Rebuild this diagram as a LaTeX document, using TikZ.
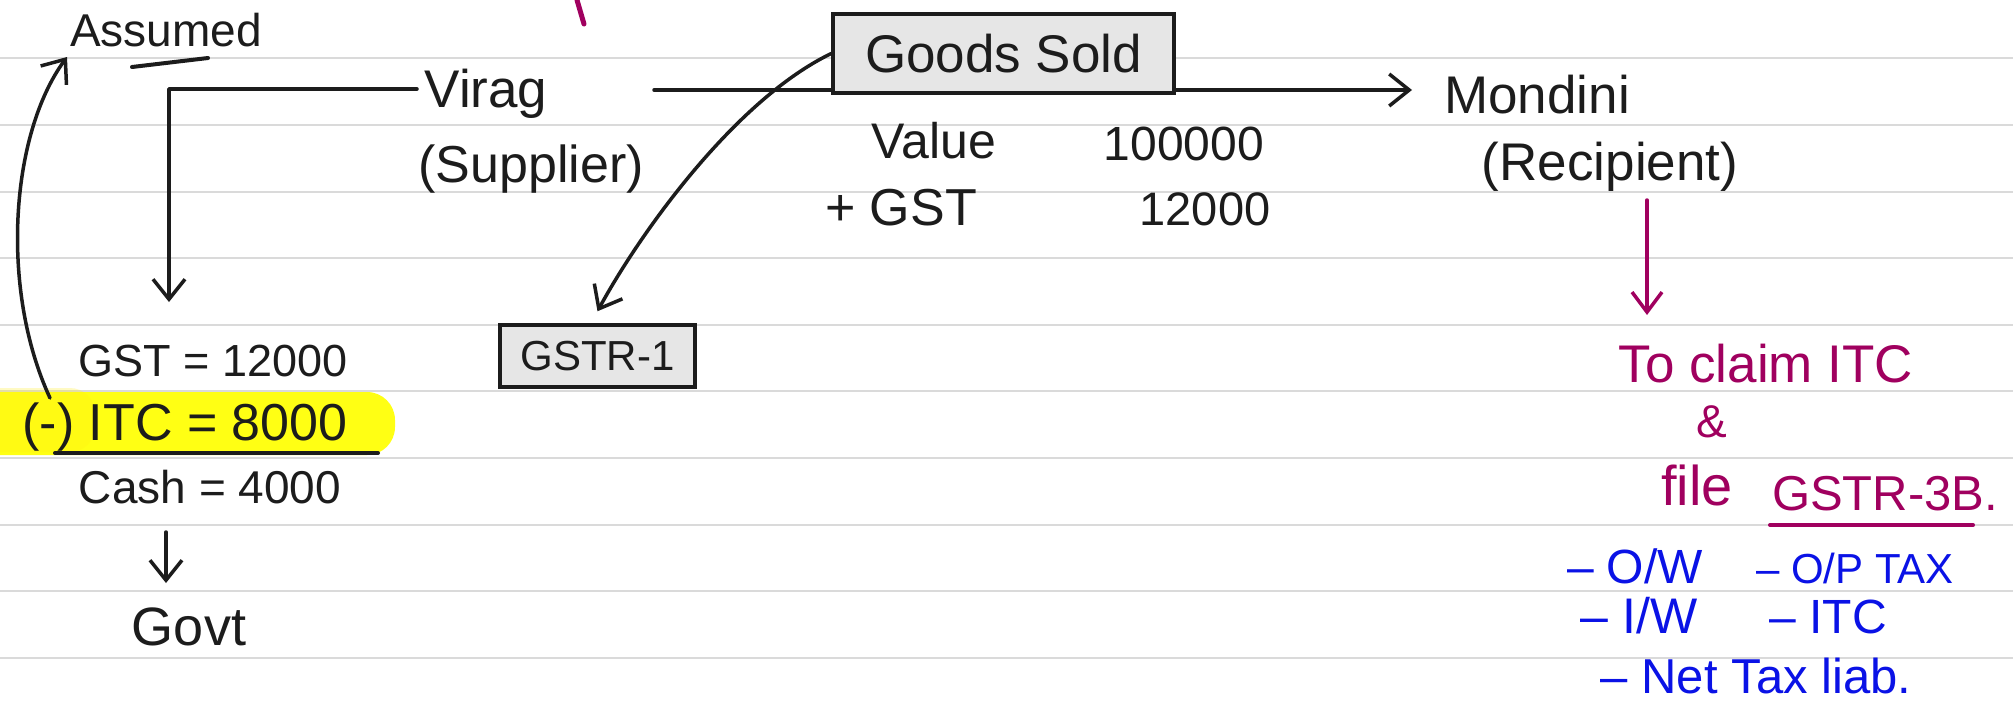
\documentclass[tikz,border=0pt]{standalone}
\usepackage{fontspec}
\setmainfont{Liberation Sans}
\usetikzlibrary{arrows.meta}
\definecolor{ink}{HTML}{1C1C1C}
\definecolor{pinkink}{HTML}{A0005F}
\definecolor{blueink}{HTML}{0A12E6}
\definecolor{ruleline}{HTML}{DADADA}
\definecolor{boxfill}{HTML}{E6E6E6}
\definecolor{hl}{HTML}{FFFF14}
\tikzset{
  hw/.style={inner sep=0pt, anchor=base, text=ink, font=\fontsize{#1}{#1}\selectfont},
  hw/.default=48,
  pk/.style={hw=#1, text=pinkink},
  pk/.default=50,
  bl/.style={hw=#1, text=blueink},
  bl/.default=48,
  conn/.style={draw=ink, line width=3.5pt, line cap=round, line join=round},
  barb/.style={-{Straight Barb[length=20pt,width=32pt,line width=3.5pt]}},
  notebox/.style={draw=ink, line width=3.5pt, fill=boxfill, inner sep=0pt, text=ink},
  ruling/.style={draw=ruleline, line width=2pt},
}
\begin{document}
\begin{tikzpicture}[x=1pt,y=-1pt]
\useasboundingbox (0,0) rectangle (2013,705);
\fill[white] (0,0) rectangle (2013,705);
% ruled lines
\foreach \r in {58.3,124.9,191.5,258.1,324.7,391.3,457.9,524.5,591.1,657.7}
  \draw[ruling] (0,\r) -- (2013,\r);

% highlight
\fill[hl, rounded corners=28pt] (-30,392) rectangle (395,455);
\fill[hl!85!orange, opacity=0.25, rounded corners=25pt] (-30,388) rectangle (95,452);

% stray pink mark
\draw[pinkink, line width=5pt, line cap=round] (577,0) -- (584,24);

% top texts
\node[hw=46] (assumed) at (166,46) {Assumed};
\draw[conn, line width=4pt] (132,67) -- (208,58);
\node[hw=53] (virag) at (486,107) {Virag};
\node[hw=52] (supplier) at (531,182) {(Supplier)};
\node[hw=53] (mondini) at (1537,113) {Mondini};
\node[hw=53] (recipient) at (1610,180) {(Recipient)};

% main line
\coordinate (mainstart) at (654,90);
\coordinate (maintip) at (1412,90);
\draw[conn, barb] (mainstart) -- (maintip);

% goods sold box
\node[notebox, minimum width=341pt, minimum height=79pt, font=\fontsize{53}{53}\selectfont] (gsold) at (1003.5,53.5) {Goods Sold};

\node[hw=50] (value) at (934,158) {Value};
\node[hw=48] (valnum) at (1184,160) {100000};
\node[hw=52] (gstlbl) at (901,225) {+ GST};
\node[hw=47] (gstnum) at (1205,225) {12000};

% GSTR-1 box
\node[notebox, minimum width=195pt, minimum height=62pt, font=\fontsize{42}{42}\selectfont] (gstr1) at (597.5,356) {GSTR-1};
\draw[conn, barb] (gsold.west) .. controls (735,100) and (640,233) .. ([yshift=12pt]gstr1.north);

% left column
\node[hw=45] (gst) at (213,376) {GST = 12000};
\node[hw=52] (itc) at (185,440) {(-) ITC = 8000};
\draw[conn, line width=4pt] (55,453) -- (378,453);
\node[hw=46] (cash) at (210,503) {Cash = 4000};
\node[hw=54] (govt) at (189,645) {Govt};

\coordinate (brk) at (417,89);
\coordinate (gsttop) at (169,302);
\draw[conn, barb] (brk) -| (gsttop);

\coordinate (cashbot) at (166,532);
\coordinate (govttop) at (166,583);
\draw[conn, barb] (cashbot) -- (govttop);

\coordinate (itcstart) at (50,398);
\coordinate (assumedtip) at (67,57);
\draw[conn, barb] (itcstart) .. controls (0,290) and (10,135) .. (assumedtip);

% recipient side
\coordinate (recbot) at (1647,200);
\coordinate (claimtop) at (1647,315);
\draw[conn, draw=pinkink, -{Straight Barb[length=20pt,width=30pt,line width=3.5pt]}] (recbot) -- (claimtop);

\node[pk=53] (claim) at (1766,382) {To claim ITC};
\node[pk=46] (amp) at (1712,437) {\&};
\node[pk=56] (file) at (1697,505) {file};
\node[pk=49] (gstr3b) at (1885,510) {GSTR-3B.};
\draw[pinkink, line width=4pt, line cap=round] (1770,525) -- (1973,525);

\node[bl=48] (ow) at (1635,583) {– O/W};
\node[bl=42] (optax) at (1855,583) {– O/P TAX};
\node[bl=50] (iw) at (1639,633) {– I/W};
\node[bl=48] (itc2) at (1828,633) {– ITC};
\node[bl=49] (net) at (1756,693) {– Net Tax liab.};
\end{tikzpicture}
\end{document}
